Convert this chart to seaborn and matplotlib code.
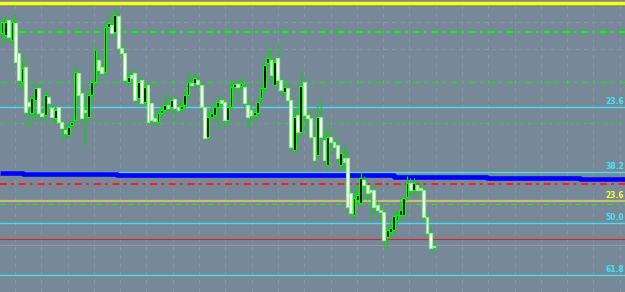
import numpy as np
import pandas as pd
import matplotlib
matplotlib.use("Agg")
import matplotlib.pyplot as plt
import matplotlib.transforms as mtransforms
import seaborn as sns

# ---- candle data (price in chart units, axis inverted) ----
opens = [33, 35, 20, 40, 23, 53, 82, 67, 102, 113,
         100, 88, 113, 115, 97, 108, 118, 107, 122, 130,
         135, 125, 120, 73, 93, 110, 117, 95, 82, 60,
         67, 72, 27, 25, 32, 16, 48, 53, 82, 75,
         73, 98, 80, 102, 85, 103, 118, 122, 113, 110,
         105, 107, 99, 107, 109, 105, 95, 83, 83, 80,
         85, 107, 137, 117, 115, 107, 100, 102, 120, 107,
         87, 84, 86, 87, 105, 110, 115, 113, 98, 88,
         63, 60, 85, 58, 80, 92, 88, 100, 150, 115,
         132, 82, 115, 118, 137, 155, 117, 140, 165, 137,
         142, 145, 165, 158, 158, 193, 215, 200, 203, 180,
         185, 190, 190, 205, 210, 212, 237, 232, 230, 220,
         215, 215, 197, 183, 190, 185, 188, 190, 217, 233,
         246]
closes = [22, 22, 37, 22, 62, 80, 68, 112, 106, 98,
          88, 113, 116, 95, 103, 117, 110, 122, 128, 133,
          127, 122, 72, 95, 118, 112, 95, 82, 50, 70,
          73, 27, 23, 33, 15, 48, 53, 80, 77, 78,
          100, 82, 103, 87, 122, 120, 121, 113, 110, 105,
          108, 100, 108, 110, 106, 95, 82, 85, 78, 84,
          107, 138, 117, 113, 107, 102, 103, 120, 107, 87,
          84, 87, 83, 103, 117, 115, 112, 102, 88, 65,
          58, 75, 62, 80, 90, 87, 100, 147, 117, 132,
          86, 115, 118, 137, 160, 117, 137, 160, 137, 142,
          147, 158, 153, 162, 207, 213, 198, 195, 178, 185,
          193, 192, 207, 210, 212, 240, 230, 228, 216, 215,
          210, 198, 183, 190, 183, 190, 190, 217, 233, 248,
          247]
highs = [18, 15, 17, 18, 13, 50, 55, 62, 98, 94,
         83, 86, 108, 90, 93, 105, 106, 104, 118, 125,
         122, 115, 65, 70, 88, 100, 90, 78, 45, 55,
         62, 22, 14, 20, 7, 12, 44, 50, 72, 70,
         68, 78, 76, 82, 82, 99, 114, 108, 105, 93,
         100, 96, 96, 102, 102, 92, 72, 78, 72, 75,
         82, 104, 112, 105, 100, 98, 95, 98, 103, 82,
         80, 80, 78, 84, 98, 106, 108, 96, 85, 60,
         47, 50, 58, 45, 75, 82, 84, 95, 110, 105,
         72, 78, 110, 113, 130, 105, 100, 132, 125, 130,
         138, 140, 148, 145, 150, 188, 190, 185, 172, 176,
         182, 185, 186, 200, 205, 208, 226, 222, 210, 210,
         200, 195, 176, 178, 178, 180, 183, 185, 212, 228,
         242]
lows = [45, 40, 42, 44, 65, 90, 90, 115, 127, 118,
        120, 118, 122, 118, 110, 120, 122, 126, 140, 137,
        138, 128, 122, 98, 122, 145, 120, 98, 85, 75,
        78, 75, 30, 36, 35, 52, 58, 83, 86, 82,
        103, 102, 106, 106, 125, 124, 125, 126, 117, 114,
        112, 110, 120, 114, 112, 110, 98, 88, 87, 88,
        110, 140, 140, 120, 118, 130, 107, 128, 123, 110,
        90, 100, 90, 108, 128, 120, 122, 117, 102, 92,
        66, 80, 88, 84, 95, 97, 104, 150, 153, 140,
        135, 118, 135, 140, 165, 158, 140, 163, 170, 148,
        152, 162, 170, 170, 212, 218, 220, 205, 206, 190,
        200, 220, 212, 215, 222, 245, 250, 238, 234, 225,
        220, 218, 200, 195, 195, 195, 193, 222, 236, 252,
        253]

# ---- horizontal levels ----
fib_levels = [107, 172, 223, 275]
fib_labels = ["23.6", "38.2", "50.0", "61.8"]
yellow_levels = [3, 201]
yellow_labels = ["0.0", "23.6"]
blue_ma_breaks = [-0.6, 6.3, 34.6, 118.0, 146.1, 174.1, 187.7]
blue_ma_values = [173, 174, 175.3, 177, 178, 179]

BG = "#778899"
sns.set_theme(style="dark", rc={"axes.facecolor": BG, "figure.facecolor": BG,
                                "lines.scale_dashes": False})

df = pd.DataFrame({"open": opens, "close": closes, "high": highs, "low": lows})
df["idx"] = np.arange(len(df))
df["up"] = df["close"] < df["open"]

fig = plt.figure(figsize=(6.25, 2.92), dpi=100)
ax = fig.add_axes([0, 0, 1, 1])
ax.set_facecolor(BG)
ax.set_xlim(-0.6, 187.65)
ax.set_ylim(292, 0)

# grid
for k in range(24):
    ax.axvline(3.92 + 7.92 * k, color="#8b97a9", lw=0.7, dashes=(3, 3), zorder=1)
for y in [22, 49]:
    ax.axhline(y, color="#8b97a9", lw=0.7, dashes=(3, 3), zorder=1)

# levels
ax.axhline(32, color="#00ff00", lw=1.5, dashes=(5, 3, 2, 3.5), zorder=2)
ax.axhline(82, color="#22dd22", lw=1.0, dashes=(5, 3, 2, 3.5), zorder=2)
ax.axhline(123, color="#22dd22", lw=0.8, dashes=(2, 3), zorder=2)
ax.axhline(184, color="#ff1a1a", lw=1.4, dashes=(5, 3, 2, 3.5), zorder=2)
ax.axhline(204, color="#33dd33", lw=0.8, dashes=(4, 3, 1.5, 3), zorder=2)
ax.axhline(239, color="#dd2222", lw=0.8, zorder=2)
ax.axhline(245, color="#8e99aa", lw=0.8, zorder=2)
ax.axhline(yellow_levels[0], color="#ffff00", lw=2.5, zorder=2)
ax.axhline(yellow_levels[1], color="#c4c466", lw=1.6, zorder=2)
for y in fib_levels:
    ax.axhline(y, color="#40e0f0", lw=1.0, zorder=2)

# blue stepped MA
bx = np.repeat(blue_ma_breaks, 2)[1:-1]
by = np.repeat(blue_ma_values, 2)
ax.plot(bx, by, color="#0000ff", lw=3.3, solid_capstyle="butt", zorder=3)

# candles
ax.vlines(df["idx"], df["high"], df["low"], color="#00dd00", lw=0.8, zorder=4)
up = df[df["up"]]
dn = df[~df["up"]]
ax.bar(up["idx"], (up["open"] - up["close"]).clip(lower=1), bottom=up["close"],
       width=0.85, color="black", edgecolor="#00ff00", linewidth=0.85, zorder=5)
ax.bar(dn["idx"], (dn["close"] - dn["open"]).clip(lower=1), bottom=dn["open"],
       width=0.85, color="white", edgecolor="#90ee90", linewidth=0.85, zorder=5)

# labels
trans = mtransforms.blended_transform_factory(ax.transAxes, ax.transData)
for y, t in zip(fib_levels, fib_labels):
    ax.text(0.999, y - 5.5, t, transform=trans, color="#40e8f8", fontsize=5.5,
            fontweight="bold", ha="right", va="center", zorder=6)
ax.text(0.999, yellow_levels[0] - 5.5, yellow_labels[0], transform=trans,
        color="#ffff33", fontsize=5.5, fontweight="bold", ha="right",
        va="center", zorder=6)
ax.text(0.999, yellow_levels[1] - 5, yellow_labels[1], transform=trans,
        color="#ffff33", fontsize=5.5, fontweight="bold", ha="right",
        va="center", zorder=6)

ax.set_xticks([])
ax.set_yticks([])
for s in ax.spines.values():
    s.set_visible(False)

fig.savefig("out.png", dpi=100, facecolor=BG)
